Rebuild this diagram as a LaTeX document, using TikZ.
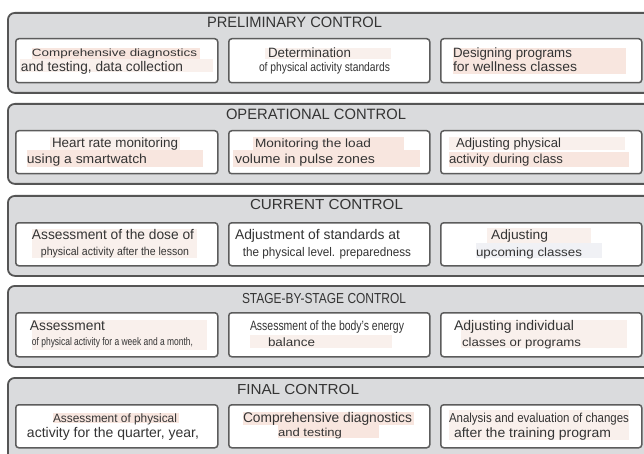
\documentclass[tikz,border=0pt]{standalone}
\usepackage{fontspec}
\setmainfont{Liberation Sans}
\usepackage{graphicx}
\definecolor{panelfill}{RGB}{218,219,221}
\definecolor{panelline}{RGB}{85,85,85}
\definecolor{boxline}{RGB}{92,92,92}
\definecolor{txt}{RGB}{52,52,52}
\definecolor{hlA}{RGB}{248,230,223}
\definecolor{hlB}{RGB}{249,240,236}
\definecolor{hlC}{RGB}{240,241,245}
\newcommand\tline[6]{\node[anchor=base,inner sep=0pt,text=txt,font=\fontsize{#5}{#5}\selectfont] (#1) at ({(#2+#3)/2},{#4+0.34*#5}) {\resizebox{\dimexpr #3pt-#2pt\relax}{\height}{#6}};}
\tikzset{
  panel/.style={draw=panelline, line width=1.8pt, fill=panelfill, rounded corners=7pt, anchor=north west, inner sep=0pt, minimum width=645pt},
  card/.style={draw=boxline, line width=1.5pt, fill=white, rounded corners=3pt, anchor=north west, inner sep=0pt},
}
\begin{document}
\begin{tikzpicture}[x=1pt,y=-1pt]
\useasboundingbox (0,0) rectangle (644,454);
\clip (0,0) rectangle (644,454);
\fill[white] (0,0) rectangle (644,454);
% panels
\node[panel, minimum height=80pt] (p1) at (7,12) {};
\node[panel, minimum height=80pt] (p2) at (7,103) {};
\node[panel, minimum height=80pt] (p3) at (7,195) {};
\node[panel, minimum height=81pt] (p4) at (7,285) {};
\node[panel, minimum height=93pt] (p5) at (7,377) {};
% boxes
\foreach \r/\y/\h in {1/38/44, 2/130/43, 3/222/43, 4/312/44, 5/404/43} {
  \node[card, minimum width=202pt, minimum height=\h pt] (b\r a) at (15,\y) {};
  \node[card, minimum width=201pt, minimum height=\h pt] (b\r b) at (228,\y) {};
  \node[card, minimum width=201pt, minimum height=\h pt] (b\r c) at (440,\y) {};
}
% highlights
\fill[hlA] (32,48) rectangle (200,59);
\fill[hlB] (20,59) rectangle (213,72);
\fill[hlB] (265,48) rectangle (391,59);
\fill[hlA] (453,48) rectangle (626,74);
\fill[hlB] (50,137) rectangle (180,150);
\fill[hlA] (27,150) rectangle (203,167);
\fill[hlA] (253,137) rectangle (404,150);
\fill[hlA] (233,150) rectangle (420,167);
\fill[hlB] (449,137) rectangle (625,150);
\fill[hlA] (449,152) rectangle (629,167);
\fill[hlB] (32,229) rectangle (197,258);
\fill[hlB] (487,228) rectangle (591,243);
\fill[hlC] (476,243) rectangle (602,258);
\fill[hlB] (32,320) rectangle (207,350);
\fill[hlB] (250,335) rectangle (392,348);
\fill[hlB] (461,320) rectangle (627,348);
\fill[hlA] (53,413) rectangle (179,423);
\fill[hlA] (243,412) rectangle (414,425);
\fill[hlA] (278,425) rectangle (379,438);
\fill[hlB] (449,410) rectangle (629,440);
% titles
\tline{t1}{207}{382}{22.5}{15}{PRELIMINARY CONTROL}
\tline{t2}{226}{406}{114.8}{15}{OPERATIONAL CONTROL}
\tline{t3}{250}{403}{204.7}{14.5}{CURRENT CONTROL}
\tline{t4}{242}{406}{299}{14.5}{STAGE-BY-STAGE CONTROL}
\tline{t5}{237}{359}{389.5}{14.5}{FINAL CONTROL}
% panel 1
\tline{l1a1}{32}{197}{53}{10.5}{Comprehensive diagnostics}
\tline{l1a2}{21}{183}{67}{14}{and testing, data collection}
\tline{l1b1}{268}{351}{53}{13.5}{Determination}
\tline{l1b2}{259}{390}{67}{12.5}{of physical activity standards}
\tline{l1c1}{453}{572}{53}{13.5}{Designing programs}
\tline{l1c2}{453}{577}{67}{13.5}{for wellness classes}
% panel 2
\tline{l2a1}{52}{178}{143}{13.5}{Heart rate monitoring}
\tline{l2a2}{27}{147}{159}{13}{using a smartwatch}
\tline{l2b1}{255}{371}{143}{12}{Monitoring the load}
\tline{l2b2}{235}{375}{159}{13}{volume in pulse zones}
\tline{l2c1}{456}{561}{143}{13}{Adjusting physical}
\tline{l2c2}{449}{563}{159}{13}{activity during class}
% panel 3
\tline{l3a1}{32}{194}{235}{14}{Assessment of the dose of}
\tline{l3a2}{41}{189}{252}{11.5}{physical activity after the lesson}
\tline{l3b1}{235}{400}{235}{14}{Adjustment of standards at}
\tline{l3b2}{243}{411}{252}{12.5}{the physical level. preparedness}
\tline{l3c1}{491}{548}{235}{13.5}{Adjusting}
\tline{l3c2}{476}{582}{252}{12}{upcoming classes}
% panel 4
\tline{l4a1}{30}{105}{326}{14}{Assessment}
\tline{l4a2}{32}{193}{342}{11}{of physical activity for a week and a month,}
\tline{l4b1}{250}{404}{326}{13.5}{Assessment of the body's energy}
\tline{l4b2}{268}{315}{342}{12}{balance}
\tline{l4c1}{454}{574}{326}{14}{Adjusting individual}
\tline{l4c2}{462}{581}{342}{12}{classes or programs}
% panel 5
\tline{l5a1}{53}{177}{418}{12}{Assessment of physical}
\tline{l5a2}{27}{199}{433}{14}{activity for the quarter, year,}
\tline{l5b1}{243}{412}{418}{14}{Comprehensive diagnostics}
\tline{l5b2}{278}{342}{433}{11.5}{and testing}
\tline{l5c1}{449}{629}{418}{13}{Analysis and evaluation of changes}
\tline{l5c2}{454}{611}{433}{13.5}{after the training program}
\end{tikzpicture}
\end{document}
